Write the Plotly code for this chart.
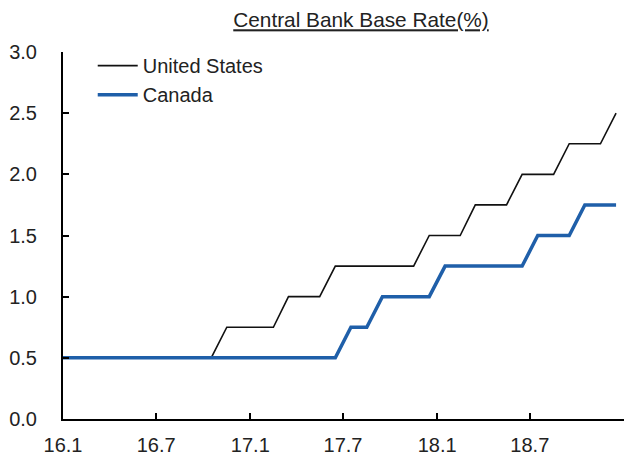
import plotly.graph_objects as go

# Monthly policy rates (upper bound for the US), Dec 2015 - Dec 2018
months = [
    "2015-12",
    "2016-01", "2016-02", "2016-03", "2016-04", "2016-05", "2016-06",
    "2016-07", "2016-08", "2016-09", "2016-10", "2016-11", "2016-12",
    "2017-01", "2017-02", "2017-03", "2017-04", "2017-05", "2017-06",
    "2017-07", "2017-08", "2017-09", "2017-10", "2017-11", "2017-12",
    "2018-01", "2018-02", "2018-03", "2018-04", "2018-05", "2018-06",
    "2018-07", "2018-08", "2018-09", "2018-10", "2018-11", "2018-12",
]

us_rate = [
    0.50,
    0.50, 0.50, 0.50, 0.50, 0.50, 0.50,
    0.50, 0.50, 0.50, 0.50, 0.75, 0.75,
    0.75, 0.75, 1.00, 1.00, 1.00, 1.25,
    1.25, 1.25, 1.25, 1.25, 1.25, 1.50,
    1.50, 1.50, 1.75, 1.75, 1.75, 2.00,
    2.00, 2.00, 2.25, 2.25, 2.25, 2.50,
]

canada_rate = [
    0.50,
    0.50, 0.50, 0.50, 0.50, 0.50, 0.50,
    0.50, 0.50, 0.50, 0.50, 0.50, 0.50,
    0.50, 0.50, 0.50, 0.50, 0.50, 0.50,
    0.75, 0.75, 1.00, 1.00, 1.00, 1.00,
    1.25, 1.25, 1.25, 1.25, 1.25, 1.25,
    1.50, 1.50, 1.50, 1.75, 1.75, 1.75,
]

tick_dates = ["2016-01-01", "2016-07-01", "2017-01-01", "2017-07-01",
              "2018-01-01", "2018-07-01", "2019-01-01"]
tick_labels = ["16.1", "16.7", "17.1", "17.7", "18.1", "18.7", ""]

FONT = "Liberation Sans, Arial, sans-serif"
TEXT = "#222222"

fig = go.Figure()
fig.add_trace(go.Scatter(
    x=months, y=us_rate, name="United States", mode="lines",
    xperiod="M1", xperiodalignment="middle",
    line=dict(color="#111111", width=1.6),
))
fig.add_trace(go.Scatter(
    x=months, y=canada_rate, name="Canada", mode="lines",
    xperiod="M1", xperiodalignment="middle",
    line=dict(color="#1F5FA9", width=3.5),
))

fig.update_layout(
    width=625, height=457,
    margin=dict(l=63, r=1, t=52, b=35),
    paper_bgcolor="white", plot_bgcolor="white",
    font=dict(family=FONT, size=20, color=TEXT),
    showlegend=True,
    legend=dict(
        x=0.053, y=1.016, xanchor="left", yanchor="top",
        bgcolor="rgba(0,0,0,0)", borderwidth=0,
        font=dict(family=FONT, size=20, color=TEXT),
        itemwidth=40, tracegroupgap=0,
    ),
    title=dict(
        text="<u>Central Bank Base Rate(%)</u>",
        x=361 / 625, xanchor="center", xref="container",
        y=1 - 20 / 457, yanchor="middle", yref="container",
        font=dict(family=FONT, size=20.8, color=TEXT),
    ),
)

fig.update_xaxes(
    type="date",
    range=["2016-01-01", "2019-01-01"],
    tickmode="array", tickvals=tick_dates, ticktext=tick_labels,
    showgrid=False, zeroline=False,
    showline=True, linecolor="black", linewidth=2,
    ticks="inside", ticklen=6, tickwidth=1.5, tickcolor="black",
    ticklabelstandoff=7,
    tickfont=dict(family=FONT, size=20, color=TEXT),
)
fig.update_yaxes(
    range=[0, 3], dtick=0.5, tick0=0, tickformat=".1f",
    showgrid=False, zeroline=False,
    showline=True, linecolor="black", linewidth=2,
    ticks="inside", ticklen=6, tickwidth=1.5, tickcolor="black",
    ticklabelstandoff=20,
    tickfont=dict(family=FONT, size=20, color=TEXT),
)

fig.write_html("out.html")
